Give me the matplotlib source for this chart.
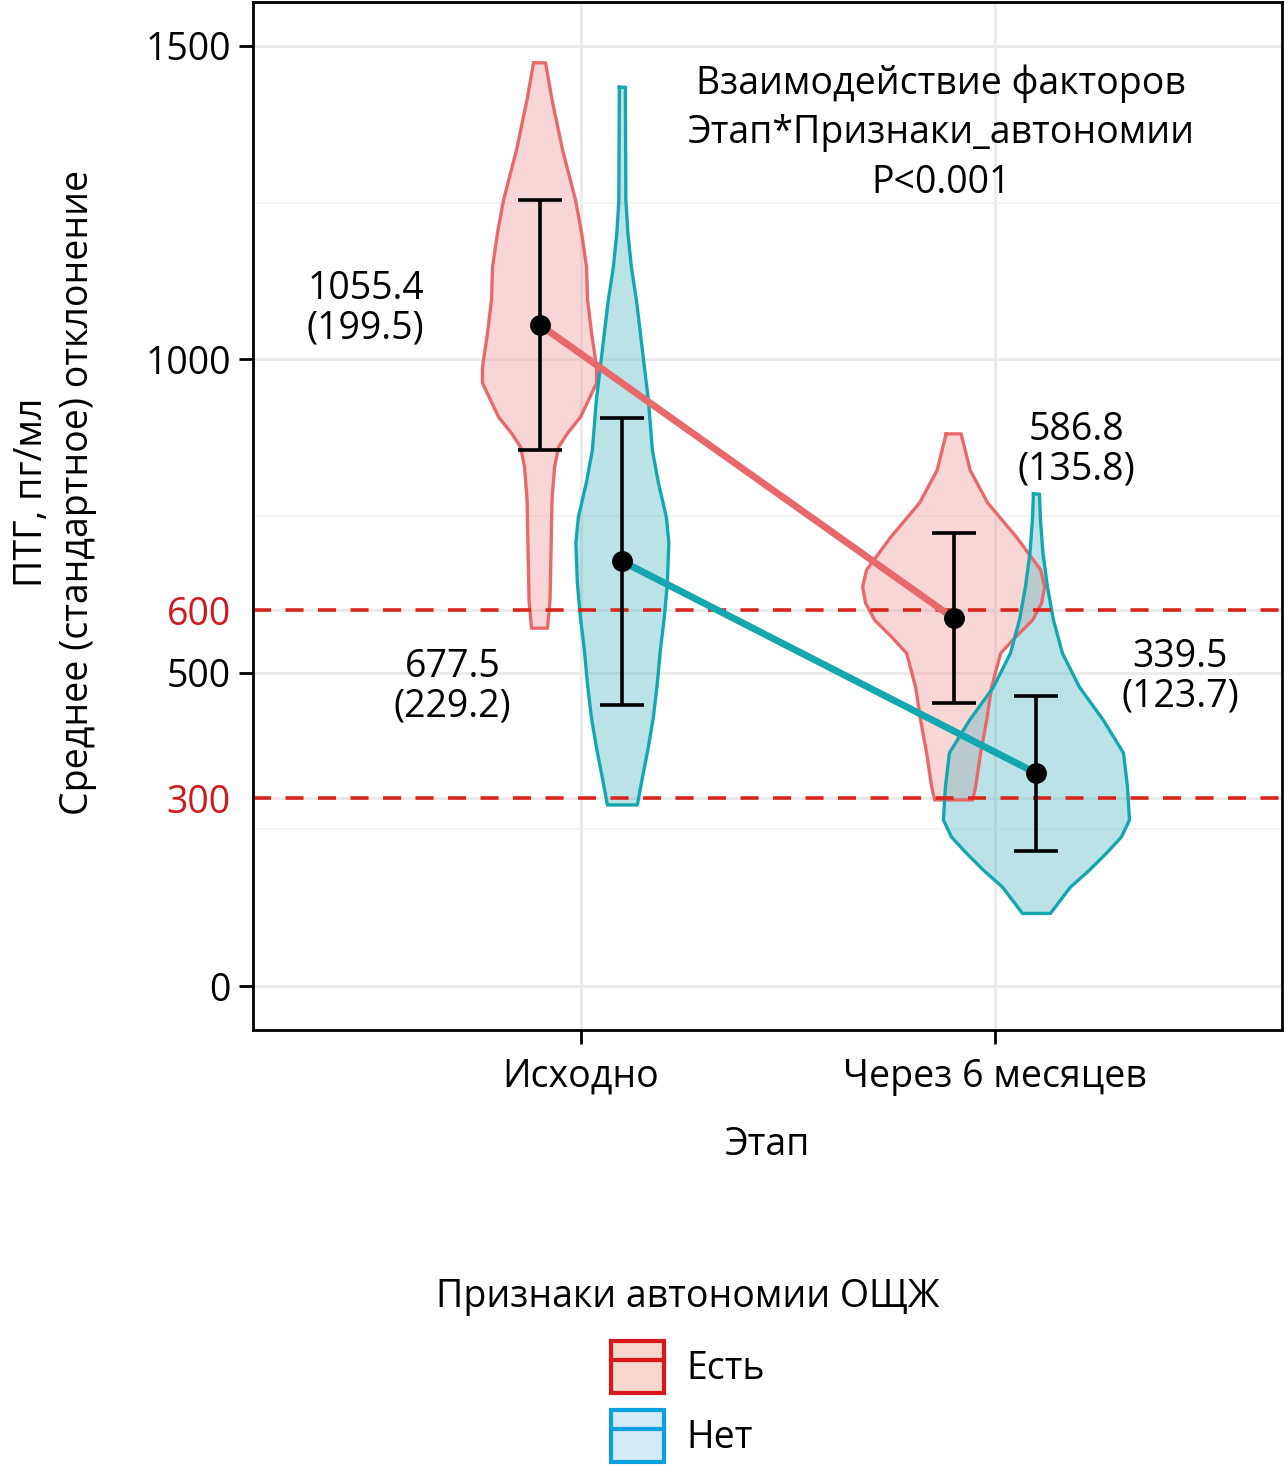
import numpy as np
import matplotlib.pyplot as plt
from matplotlib.patches import Patch
from matplotlib.lines import Line2D
from matplotlib.legend_handler import HandlerTuple

plt.rcParams['font.family'] = ['Open Sans', 'DejaVu Sans']

stages = ["Исходно", "Через 6 месяцев"]
groups = ["Есть", "Нет"]

means = {"Есть": [1055.4, 586.8], "Нет": [677.5, 339.5]}
sds = {"Есть": [199.5, 135.8], "Нет": [229.2, 123.7]}

# violin outlines: levels (pg/ml) and half-widths (px at 414 px per category)
est_base_lvl = [1473, 1414, 1334, 1254, 1202, 1147, 1095, 1042, 988, 962, 935, 908, 882, 860, 828, 776, 696, 616, 571]
est_base_hw = [6, 12.5, 23, 36, 42, 47, 48, 52, 57, 57, 49, 41, 28, 19, 15, 12.5, 11.5, 10.5, 8]
net_base_lvl = [1434, 1254, 1202, 1147, 1095, 1042, 988, 935, 855, 803, 748, 707, 643, 589, 536, 484, 429, 377, 324, 289]
net_base_hw = [3, 3.5, 5.5, 9, 14, 18, 22, 26, 30, 36, 44, 46.5, 45, 42, 38, 35, 31, 25.5, 19, 15]
est_6m_lvl = [881, 823, 771, 716, 664, 637, 611, 584, 557, 531, 477, 424, 372, 318, 297]
est_6m_hw = [7.5, 16.5, 34, 63, 87, 91, 88, 79, 62, 47, 38, 33, 27, 22, 19]
net_6m_lvl = [785, 744, 691, 637, 584, 531, 477, 424, 372, 318, 265, 238, 212, 185, 158, 116]
net_6m_hw = [3, 4, 6.5, 11, 17, 26, 43, 67, 87, 91, 93, 85, 70, 53, 34, 14]

violins = {
    ("Есть", 0): (est_base_lvl, est_base_hw),
    ("Нет", 0): (net_base_lvl, net_base_hw),
    ("Есть", 1): (est_6m_lvl, est_6m_hw),
    ("Нет", 1): (net_6m_lvl, net_6m_hw),
}

labels = [("1055.4\n(199.5)", -0.52, 1081),
          ("677.5\n(229.2)", -0.31, 478),
          ("586.8\n(135.8)", 1.196, 856),
          ("339.5\n(123.7)", 1.447, 494)]

ref_levels = [600, 300]

line_col = {"Есть": "#E8696B", "Нет": "#14A7AF"}
fill_col = {"Есть": "#F19A9A", "Нет": "#57B9C3"}
dodge = {"Есть": -0.1, "Нет": 0.1}
px = 1 / 414

fig = plt.figure(figsize=(12.84, 14.65), dpi=100)
ax = fig.add_axes([253 / 1284, 1 - 1030 / 1465, 1029 / 1284, 1028 / 1465])

ax.set_xlim(-0.792, 1.693)
ax.set_ylim(-70, 1570)

ax.set_yticks([0, 300, 500, 600, 1000, 1500])
ax.set_yticks([250, 750, 1250], minor=True)
ax.set_xticks([0, 1])
ax.set_xticklabels(stages)
ax.grid(True, which="major", color="#EBEBEB", lw=2.2, zorder=0)
ax.grid(True, which="minor", axis="y", color="#F2F2F2", lw=1.2, zorder=0)
ax.set_axisbelow(True)

ax.tick_params(axis="both", which="major", labelsize=27, length=10, width=2, color="black")
ax.tick_params(axis="y", which="minor", length=0)
ax.tick_params(axis="y", pad=6)
ax.tick_params(axis="x", pad=10)
for t, lab, v in zip(ax.yaxis.get_major_ticks(), ax.get_yticklabels(), [0, 300, 500, 600, 1000, 1500]):
    if v in ref_levels:
        t.tick1line.set_visible(False)
        lab.set_color("#D0191C")

for s in ax.spines.values():
    s.set_linewidth(2)

for lvl in ref_levels:
    ax.axhline(lvl, color="#D9261C", lw=2.6, dashes=(5, 4), zorder=2)

for (g, i), (lvl, hw) in violins.items():
    c = i + dodge[g]
    lvl = np.array(lvl)
    hw = np.array(hw) * px
    ax.fill_betweenx(lvl, c - hw, c + hw, facecolor=fill_col[g], alpha=0.4,
                     edgecolor="none", zorder=1.5)
    xs = np.concatenate([c - hw, (c + hw)[::-1], [c - hw[0]]])
    ys = np.concatenate([lvl, lvl[::-1], [lvl[0]]])
    ax.plot(xs, ys, color=line_col[g], lw=2.4, zorder=1.6, solid_joinstyle="round")

for g in groups:
    xs = np.arange(len(stages)) + dodge[g]
    ax.plot(xs, means[g], color=line_col[g], lw=5, zorder=3, solid_capstyle="butt")
    ax.errorbar(xs, means[g], yerr=sds[g], fmt="none", ecolor="black",
                elinewidth=2.6, capsize=16, capthick=2.6, zorder=4)
    ax.plot(xs, means[g], "o", color="black", ms=14, zorder=5)

for txt, x, y in labels:
    ax.text(x, y, txt, ha="center", va="center", fontsize=27, linespacing=1.05)

ax.text(0.87, 1361, "Взаимодействие факторов\nЭтап*Признаки_автономии\nP<0.001",
        ha="center", va="center", fontsize=27, linespacing=1.4)

ax.set_xlabel("Этап", fontsize=27, labelpad=22)
fig.text(55 / 1284, 1 - 492 / 1465, "ПТГ, пг/мл\nСреднее (стандартное) отклонение",
         rotation=90, ha="center", va="center", fontsize=27, linespacing=1.25)

handles = [(Patch(facecolor="#F7D6CC", edgecolor="#D7191C", lw=3), Line2D([], [], color="#D7191C", lw=3)),
           (Patch(facecolor="#D3EAF8", edgecolor="#0AA0E0", lw=3), Line2D([], [], color="#0AA0E0", lw=3))]
leg = fig.legend(handles, groups, title="Признаки автономии ОЩЖ", loc="upper center",
                 bbox_to_anchor=(688 / 1284, 1 - 1263 / 1465), frameon=False, fontsize=27,
                 title_fontsize=27, handlelength=1.4, handleheight=1.75, handletextpad=0.6,
                 labelspacing=0.45, borderaxespad=0,
                 handler_map={tuple: HandlerTuple(ndivide=1, pad=0)})
leg._legend_box.sep = 18

fig.savefig("out.png", dpi=100)
